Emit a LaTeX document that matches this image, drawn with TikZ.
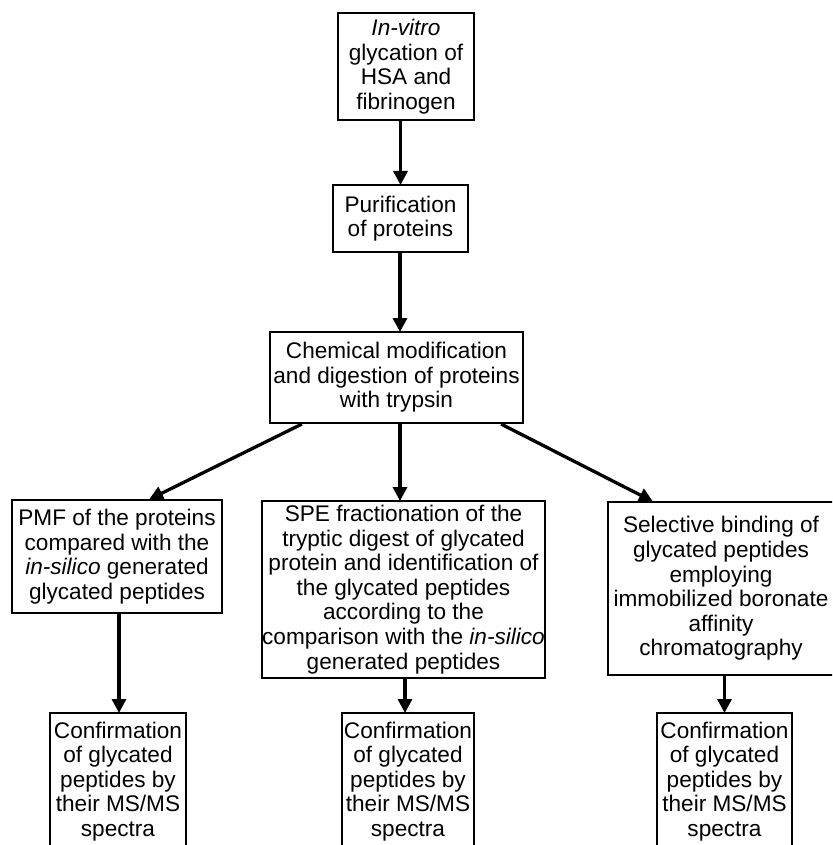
\documentclass[tikz,border=0pt]{standalone}
\usepackage{fontspec}
\setmainfont{Liberation Sans}
\usetikzlibrary{arrows.meta,calc}
\begin{document}
\begin{tikzpicture}[x=1pt,y=-1pt,
  box/.style={draw=black, line width=2pt, fill=white, inner sep=0pt, align=center,
    font=\fontsize{22.6}{24.6}\selectfont, text=black},
  arr/.style={line width=3.3pt, draw=black, -{Triangle[length=14pt,width=14pt]}, shorten >=-1pt}
]
\fill[white] (0,0) rectangle (832,845);
\clip (0,0) rectangle (832,845);
\useasboundingbox (0,0) rectangle (832,845);

\node[box, minimum width=136pt, minimum height=107pt] (top) at (406,66.5)
  {\textit{In-vitro}\\glycation of\\HSA and\\fibrinogen};
\node[box, minimum width=135pt, minimum height=67pt] (pur) at (400.5,218.5)
  {Purification\\of proteins};
\node[box, minimum width=253pt, minimum height=91pt] (chem) at (396.5,377.5)
  {Chemical modification\\and digestion of proteins\\with trypsin};
\node[box, minimum width=210pt, minimum height=113pt] (pmf) at (117,556.5)
  {PMF of the proteins\\compared with the\\\textit{in-silico} generated\\glycated peptides};
\node[box, minimum width=277pt, minimum height=177pt] (spe) at (403.5,589.5)
  {SPE fractionation of the\\tryptic digest of glycated\\protein and identification of\\the glycated peptides\\according to the\\comparison with the \textit{in-silico}\\generated peptides};
\node[box, minimum width=226pt, minimum height=173pt] (sel) at (721,588.5)
  {Selective binding of\\glycated peptides\\employing\\immobilized boronate\\affinity\\chromatography};
\node[box, minimum width=136pt, minimum height=137pt] (c1) at (118,781.5)
  {Confirmation\\of glycated\\peptides by\\their MS/MS\\spectra};
\node[box, minimum width=132pt, minimum height=137pt] (c2) at (408,781.5)
  {Confirmation\\of glycated\\peptides by\\their MS/MS\\spectra};
\node[box, minimum width=135pt, minimum height=137pt] (c3) at (724.5,781.5)
  {Confirmation\\of glycated\\peptides by\\their MS/MS\\spectra};

\draw[arr] (top.south -| pur.north) -- (pur.north);
\draw[arr] ($(pur.south)+(-0.5,0)$) -- ($(chem.north)+(3.5,0)$);
\draw[arr] ($(chem.south west)+(33,0)$) -- ($(pmf.north)+(33,0)$);
\draw[arr] ($(chem.south)+(3.5,0)$) -- ($(spe.north)+(-3.5,0)$);
\draw[arr] ($(chem.south east)+(-23,0)$) -- ($(sel.north west)+(45,0)$);
\draw[arr] ($(pmf.south)+(2,0)$) -- ($(c1.north)+(1,0)$);
\draw[arr] ($(spe.south)+(1.5,0)$) -- ($(c2.north)+(-3,0)$);
\draw[arr] (c3.north |- sel.south) -- (c3.north);
\end{tikzpicture}
\end{document}
